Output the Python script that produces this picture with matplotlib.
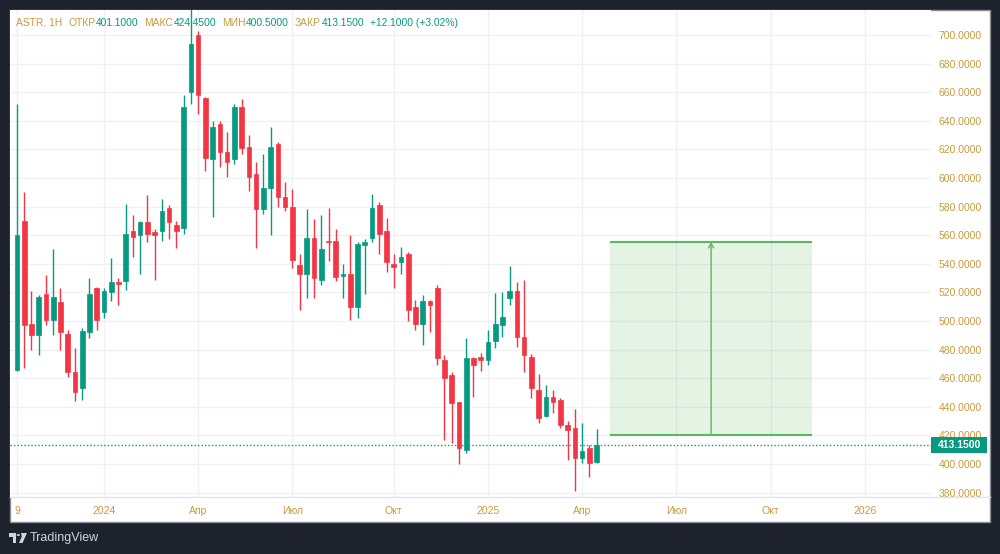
import numpy as np
import matplotlib
matplotlib.use("Agg")
import matplotlib.pyplot as plt
from matplotlib.patches import Rectangle, Polygon, Circle
from matplotlib.lines import Line2D
import matplotlib.transforms as mtrans

# ---------------- data (weekly candles, ASTR) ----------------
start_date = np.datetime64("2023-10-09")
opens = [466, 570, 498, 490, 519, 501, 513, 491, 464, 453, 492, 523, 506, 520, 527, 528,
         563, 560, 569, 562, 563, 579, 567, 565, 660, 700, 656, 613, 638, 618, 613, 650,
         622, 603, 578, 593, 624, 587, 580, 539, 533, 558, 529, 556, 556, 531.5, 533, 510,
         553, 558, 581, 563, 540, 541, 547, 509.5, 498, 514, 523, 473, 462, 443, 410, 474,
         474.5, 473, 486, 497, 516, 521, 489, 475, 452, 433.5, 447, 445, 427, 425, 404, 411,
         401.1]
highs = [652, 590, 521, 518, 532, 550, 523, 494, 481, 495, 530, 524, 523, 544, 530, 582,
         574, 570, 588, 564, 585, 581, 570, 658, 725, 703, 657, 640, 640, 632, 652, 655,
         630, 611, 617, 636, 625, 597, 592, 547, 578, 571, 574, 579, 564, 540, 560, 555,
         557, 589, 583, 572, 547, 552, 548, 515, 518, 515, 525, 476, 464, 443, 488, 475,
         477.5, 494, 519.5, 520, 538.5, 527, 529, 477, 463, 455, 452, 446, 430, 438.5, 429, 413,
         424.45]
lows = [465, 467, 480, 476, 497, 490, 480, 461, 444, 445, 488, 494, 502, 514, 511, 522,
        545, 533, 555, 529, 556, 557, 551, 561, 652, 645, 605, 573, 608, 601, 610, 617,
        591, 551, 575, 560, 580, 577, 537, 508, 516, 516, 525, 542, 528, 516, 501, 502,
        519, 555, 547, 534, 523, 533, 500, 494, 483, 492, 469, 417, 415, 400, 408, 447,
        465, 469, 481, 488.5, 511, 482, 464, 446, 429, 433, 435.5, 425, 403, 381, 401, 391,
        400.5]
closes = [560, 497, 490, 517, 501, 517, 492, 464, 450, 493, 519, 501, 521, 527, 526, 561,
          559, 569, 561, 560, 577, 569, 563, 650, 694, 658, 614, 636, 618, 611, 650, 621,
          601, 578, 593, 622, 587, 580, 543, 533, 558, 530, 550, 555, 531, 533, 510, 554,
          555, 579, 561, 541, 538, 545, 508, 498, 514, 511, 474, 460, 442.5, 411, 474, 469,
          472.6, 485, 497.6, 503, 521, 489, 476, 453, 432, 446.5, 443, 427, 423.5, 404, 409, 400.5,
          413.15]

price_ticks = [380, 400, 420, 440, 460, 480, 500, 520, 540, 560, 580, 600, 620, 640, 660, 680, 700]
time_tick_dates = ["2023-10-09", "2024-01-01", "2024-04-01", "2024-07-01", "2024-10-01",
                   "2025-01-01", "2025-04-01", "2025-07-01", "2025-10-01", "2026-01-01"]
time_tick_labels = ["9", "2024", "Апр", "Июл", "Окт", "2025", "Апр", "Июл", "Окт", "2026"]

header_parts = [("ASTR, 1H", "label"), ("ОТКР", "label"), ("401.1000", "value"),
                ("МАКС", "label"), ("424.4500", "value"), ("МИН", "label"),
                ("400.5000", "value"), ("ЗАКР", "label"), ("413.1500", "value"),
                ("+12.1000 (+3.02%)", "change")]

# price-range drawing tool
range_low, range_high = 420, 555
range_start_bar, range_end_bar, range_arrow_bar = 81.85, 109.7, 95.8

# ---------------- style ----------------
GREEN = "#089981"
RED = "#f23645"
GOLD = "#c99a3e"
BG = "#1e222d"
GRID = "#f0f1f4"
FONT = "Liberation Sans"
FS = 7.5
HFS = 7.4

W, H = 1000, 554
fig = plt.figure(figsize=(W / 100, H / 100), dpi=100, facecolor=BG)

def fx(x):
    return x / W

def fy(y):
    return 1 - y / H

# white panel (behind everything)
fig.patches.append(Rectangle((fx(10), fy(522)), fx(980), 512 / H, transform=fig.transFigure,
                             facecolor="white", edgecolor="#8a8d96", lw=1.0, zorder=-5))

ax = fig.add_axes([fx(10), fy(497), fx(921), 487 / H])
ax.set_facecolor("white")
for s in ax.spines.values():
    s.set_visible(False)

n = len(opens)
xs = np.arange(n)
o = np.array(opens, float)
c = np.array(closes, float)
hi = np.array(highs, float)
lo = np.array(lows, float)
up = c >= o
cols = np.where(up, GREEN, RED)

ax.vlines(xs, lo, hi, colors=cols, lw=1.0, zorder=3)
bottoms = np.minimum(o, c)
heights = np.maximum(np.abs(c - o), 0.8)
ax.bar(xs, heights, bottom=bottoms, width=0.64, color=cols, edgecolor=cols, lw=0.5, zorder=4)

ax.set_xlim(-0.966, 126.15)
ax.set_ylim(376.9, 717.5)

# ticks
ax.yaxis.tick_right()
ax.set_yticks(price_ticks)
ax.set_yticklabels([f"{v:.4f}" for v in price_ticks])
ax.tick_params(axis="y", length=0, pad=5.6, labelcolor=GOLD, labelsize=FS)

tick_days = (np.array(time_tick_dates, dtype="datetime64[D]") - start_date).astype(int)
tick_bars = np.ceil(tick_days / 7.0)
ax.set_xticks(tick_bars)
ax.set_xticklabels(time_tick_labels)
ax.tick_params(axis="x", length=0, pad=6.5, labelcolor=GOLD, labelsize=FS)
for lab in ax.get_xticklabels() + ax.get_yticklabels():
    lab.set_fontfamily(FONT)

ax.grid(True, color=GRID, lw=1.0, zorder=0)
ax.set_axisbelow(True)

# price range tool
ax.add_patch(Rectangle((range_start_bar, range_low), range_end_bar - range_start_bar,
                       range_high - range_low, facecolor="#4caf50", alpha=0.15,
                       edgecolor="none", zorder=2))
ax.hlines([range_low, range_high], range_start_bar, range_end_bar, colors="#5cb860", lw=1.5, zorder=3)
ax.annotate("", xy=(range_arrow_bar, range_high), xytext=(range_arrow_bar, range_low),
            arrowprops=dict(arrowstyle="->,head_length=0.3,head_width=0.18", color="#5cb860",
                            lw=1.0, shrinkA=0, shrinkB=0), zorder=3)

# last price line
last = c[-1]
ax.axhline(last, color=GREEN, ls=(0, (1, 1.5)), lw=1.0, zorder=2)

# price box on axis
bt = mtrans.blended_transform_factory(fig.transFigure, ax.transData)
box_h = 15.5 / (487 / (717.5 - 376.9))
fig.patches.append(Rectangle((fx(931), last - box_h / 2), fx(56), box_h, transform=bt,
                             facecolor=GREEN, edgecolor="none", zorder=5))
fig.text(fx(959), last, f"{last:.4f}", transform=bt, color="white", fontsize=FS,
         fontweight="bold", fontfamily=FONT, ha="center", va="center", zorder=6)

# axis separator
fig.add_artist(Line2D([fx(10), fx(990)], [fy(497), fy(497)], color="#e0e3eb", lw=1.0))

# header
prev = None
for txt, kind in header_parts:
    color = GOLD if kind == "label" else GREEN
    if prev is None:
        prev = fig.text(fx(16), fy(22.7), txt, color=color, fontsize=HFS, fontfamily=FONT,
                        va="center", ha="left", zorder=7)
    else:
        gap = 0.5 if kind == "value" else 6
        prev = ax.annotate(txt, xy=(1, 0.5), xycoords=prev, xytext=(gap, 0),
                           textcoords="offset pixels", color=color, fontsize=HFS,
                           fontfamily=FONT, va="center", ha="left", zorder=7,
                           annotation_clip=False)

# TradingView logo
lc = "#d1d4dc"
fig.patches.append(Rectangle((fx(9), fy(536.5)), fx(7), 3.5 / H, transform=fig.transFigure,
                             facecolor=lc, edgecolor="none"))
fig.patches.append(Rectangle((fx(13), fy(543)), fx(3), 10 / H, transform=fig.transFigure,
                             facecolor=lc, edgecolor="none"))
fig.patches.append(Circle((fx(18.3), fy(535)), 1.7 / W, transform=fig.transFigure,
                          facecolor=lc, edgecolor="none"))
fig.patches.append(Polygon([(fx(21), fy(533)), (fx(27), fy(533)), (fx(22.5), fy(543)),
                            (fx(19), fy(543)), (fx(21.8), fy(536.5))], closed=True,
                           transform=fig.transFigure, facecolor=lc, edgecolor="none"))
fig.text(fx(30), fy(538), "TradingView", color=lc, fontsize=9, fontfamily=FONT,
         va="center", ha="left")

fig.savefig("out.png", dpi=100, facecolor=BG)
